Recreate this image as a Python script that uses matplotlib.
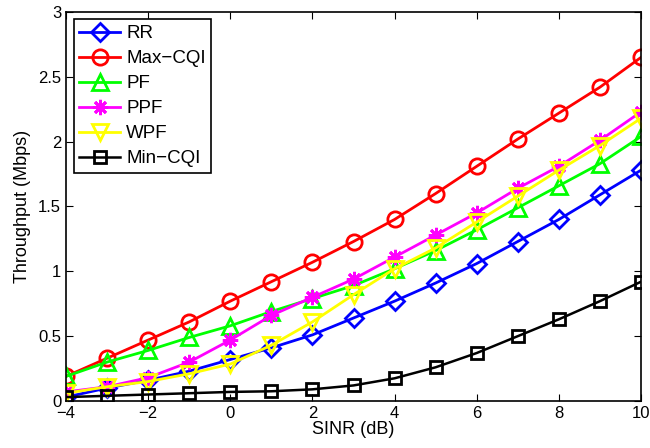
import matplotlib.pyplot as plt
import numpy as np

plt.rcParams['font.family'] = ['Liberation Sans', 'DejaVu Sans']

sinr = [-4, -3, -2, -1, 0, 1, 2, 3, 4, 5, 6, 7, 8, 9, 10]

rr = [0.03, 0.10, 0.16, 0.23, 0.32, 0.41, 0.51, 0.64, 0.77, 0.91, 1.06, 1.23, 1.40, 1.59, 1.78]
max_cqi = [0.19, 0.33, 0.47, 0.61, 0.77, 0.92, 1.07, 1.23, 1.40, 1.60, 1.81, 2.02, 2.22, 2.42, 2.65]
pf = [0.19, 0.30, 0.39, 0.49, 0.58, 0.69, 0.79, 0.89, 1.02, 1.16, 1.32, 1.49, 1.66, 1.83, 2.04]
ppf = [0.07, 0.11, 0.18, 0.30, 0.47, 0.66, 0.80, 0.94, 1.11, 1.28, 1.45, 1.64, 1.81, 2.01, 2.23]
wpf = [0.06, 0.11, 0.15, 0.21, 0.285, 0.43, 0.61, 0.82, 1.02, 1.18, 1.38, 1.58, 1.78, 1.97, 2.18]
min_cqi = [0.03, 0.04, 0.05, 0.06, 0.07, 0.075, 0.09, 0.12, 0.175, 0.26, 0.37, 0.50, 0.63, 0.77, 0.92]

fig = plt.figure(figsize=(6.5, 4.48), dpi=100)
ax = fig.add_axes([66 / 650, 1 - 401 / 448, (641 - 66) / 650, (401 - 12) / 448])

ms = 11
ax.plot(sinr, rr, '-', color='b', marker='D', ms=9.5, mfc='none', mew=2, lw=2, label='RR')
ax.plot(sinr, max_cqi, '-', color='r', marker='o', ms=ms, mfc='none', mew=2, lw=2, label='Max\u2212CQI')
ax.plot(sinr, pf, '-', color='#00ff00', marker='^', ms=ms, mfc='none', mew=2, lw=2, label='PF')
ax.plot(sinr, ppf, '-', color='#ff00ff', marker=(8, 2, 0), ms=ms, mew=2, lw=2, label='PPF')
ax.plot(sinr, wpf, '-', color='#ffff00', marker='v', ms=ms, mfc='none', mew=2, lw=2, label='WPF')
ax.plot(sinr, min_cqi, '-', color='k', marker='s', ms=9, mfc='none', mew=2, lw=1.8, label='Min\u2212CQI')

ax.set_xlim(-4, 10)
ax.set_ylim(0, 3)
ax.set_xticks(np.arange(-4, 11, 2))
ax.set_yticks([0, 0.5, 1, 1.5, 2, 2.5, 3])
ax.set_xticklabels(['\u22124', '\u22122', '0', '2', '4', '6', '8', '10'])
ax.set_yticklabels(['0', '0.5', '1', '1.5', '2', '2.5', '3'])
ax.tick_params(direction='in', top=True, right=True, labelsize=12, length=5)
for s in ax.spines.values():
    s.set_linewidth(1.2)

ax.set_xlabel('SINR (dB)', fontsize=13, labelpad=0)
ax.set_ylabel('Throughput (Mbps)', fontsize=13, labelpad=5)

leg = ax.legend(loc='upper left', fontsize=13.5, fancybox=False, framealpha=1,
                edgecolor='k', handlelength=2.2, borderpad=0.3, labelspacing=0.42,
                handletextpad=0.3, borderaxespad=0.4)
leg.get_frame().set_linewidth(1.2)

fig.savefig('out.png', dpi=100)
